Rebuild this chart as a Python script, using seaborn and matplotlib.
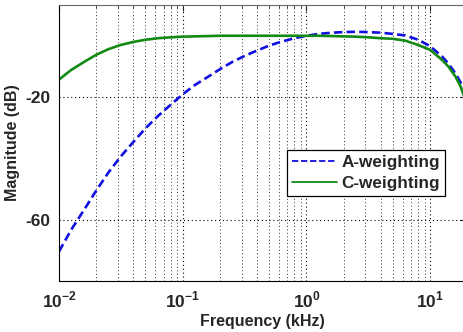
import matplotlib
matplotlib.use("Agg")
import matplotlib.pyplot as plt
import seaborn as sns
import pandas as pd
from matplotlib.lines import Line2D
from matplotlib.ticker import LogLocator, FixedLocator, NullFormatter

sns.set_style("white")
plt.rcParams["font.family"] = ["Liberation Sans", "DejaVu Sans"]
plt.rcParams["font.weight"] = "bold"
plt.rcParams["mathtext.fontset"] = "custom"
plt.rcParams["mathtext.rm"] = "Liberation Sans:bold"
plt.rcParams["mathtext.bf"] = "Liberation Sans:bold"

# frequency points (kHz)
freq_khz = [0.010, 0.0125, 0.016, 0.020, 0.025, 0.0315, 0.040, 0.050, 0.063, 0.080,
            0.100, 0.125, 0.160, 0.200, 0.250, 0.315, 0.400, 0.500, 0.630, 0.800,
            1.000, 1.250, 1.600, 2.000, 2.500, 3.150, 4.000, 5.000, 6.300, 8.000,
            10.00, 12.50, 14.00, 16.00, 17.50, 19.30]

a_weight_db = [-70.4, -63.4, -56.7, -50.5, -44.7, -39.4, -34.6, -30.2, -26.2, -22.5,
               -19.1, -16.1, -13.4, -10.9, -8.6, -6.6, -4.8, -3.2, -1.9, -0.8,
               0.0, 0.6, 1.0, 1.2, 1.3, 1.2, 1.0, 0.6, 0.1, -1.3,
               -3.4, -6.8, -9.0, -12.3, -15.0, -18.0]

c_weight_db = [-14.3, -11.2, -8.5, -6.2, -4.4, -3.0, -2.0, -1.3, -0.8, -0.5,
               -0.3, -0.2, -0.1, 0.0, 0.0, 0.0, 0.0, 0.0, 0.0, 0.0,
               0.0, 0.0, -0.1, -0.2, -0.3, -0.5, -0.8, -1.0, -1.6, -3.0,
               -4.6, -7.9, -10.0, -13.3, -16.3, -21.0]

series_names = ["A-weighting", "C-weighting"]
y_ticks = [-60, -20]
x_ticks = [0.01, 0.1, 1, 10]
x_tick_labels = [r"$10^{-2}$", r"$10^{-1}$", r"$10^{0}$", r"$10^{1}$"]

BLUE = "#1010e0"
GREEN = "#138a13"

df = pd.DataFrame({
    "freq": freq_khz * 2,
    "mag": a_weight_db + c_weight_db,
    "curve": [series_names[0]] * len(freq_khz) + [series_names[1]] * len(freq_khz),
})

fig = plt.figure(figsize=(4.63, 3.32), dpi=100)
ax = fig.add_axes([0.1274, 0.1536, 0.878, 0.831])

sns.lineplot(data=df, x="freq", y="mag", hue="curve", style="curve",
             palette={series_names[0]: BLUE, series_names[1]: GREEN},
             dashes={series_names[0]: (3.2, 1.6), series_names[1]: ""},
             linewidth=1.9, ax=ax, legend=False, sort=False)

ax.set_xscale("log")
ax.set_xlim(0.01, 19.3)
ax.set_ylim(-80, 10)

ax.xaxis.set_major_locator(FixedLocator(x_ticks))
ax.set_xticklabels(x_tick_labels)
ax.xaxis.set_minor_locator(LogLocator(base=10, subs=range(2, 10)))
ax.xaxis.set_minor_formatter(NullFormatter())
ax.set_yticks(y_ticks)
ax.set_yticklabels([str(v) for v in y_ticks])

ax.grid(True, which="major", axis="both", linestyle=(0, (1, 2.5)), color="black", linewidth=0.8)
ax.grid(True, which="minor", axis="x", linestyle=(0, (1, 2.5)), color="#333333", linewidth=0.7)

ax.tick_params(axis="both", which="major", direction="in", length=4, labelsize=12.5,
               top=True, right=True, pad=6)
ax.tick_params(axis="x", which="minor", direction="in", length=2, top=True)
for lab in ax.get_yticklabels():
    lab.set_fontweight("bold")

for side in ["left", "bottom", "top", "right"]:
    ax.spines[side].set_color("black")
    ax.spines[side].set_linewidth(0.8)
ax.spines["top"].set_color("#666666")

ax.set_xlabel("Frequency (kHz)", fontsize=11.5, fontweight="bold", labelpad=3)
ax.set_ylabel("Magnitude (dB)", fontsize=11.5, fontweight="bold", labelpad=4)

handles = [Line2D([], [], color=BLUE, linestyle=(0, (3.5, 1.5)), linewidth=1.3),
           Line2D([], [], color=GREEN, linestyle="-", linewidth=1.3)]
leg = ax.legend(handles, series_names, loc="upper left", bbox_to_anchor=(0.561, 0.475),
                frameon=True, fancybox=False, edgecolor="black", framealpha=1,
                prop={"weight": "bold", "size": 12.3}, handlelength=2.6,
                handletextpad=0.3, borderpad=0.3, labelspacing=0.35, borderaxespad=0)
leg.get_frame().set_linewidth(0.9)

fig.savefig("out.png", dpi=100)
